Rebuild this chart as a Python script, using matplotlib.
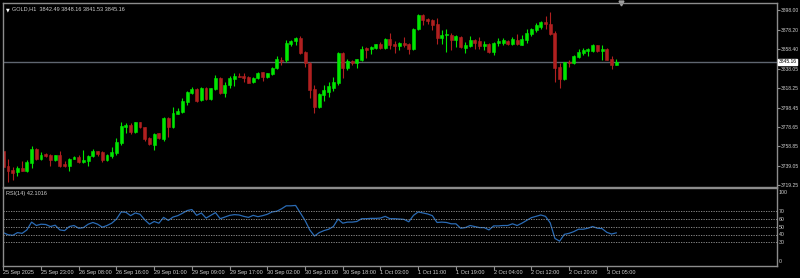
import numpy as np
import matplotlib
matplotlib.use("Agg")
import matplotlib.pyplot as plt

plt.rcParams['font.family'] = ['Liberation Sans', 'DejaVu Sans']

# GOLD H1 candles, 25 Sep 15:00 .. 3 Oct 07:00
opens = [3754.5, 3739.3, 3734.9, 3732.5, 3737.3, 3733.5, 3742.1, 3756.3, 3746.4, 3751.5,
         3750.2, 3744.7, 3750.2, 3741.0, 3738.6, 3746.4, 3748.4, 3742.7, 3743.7, 3748.8,
         3753.8, 3753.2, 3744.7, 3748.8, 3752.2, 3761.9, 3779.2, 3781.2, 3774.1, 3783.7,
         3778.6, 3767.7, 3759.9, 3772.1, 3766.7, 3788.3, 3778.6, 3792.1, 3793.8, 3804.6,
         3813.1, 3817.5, 3806.3, 3818.8, 3807.0, 3817.5, 3828.9, 3813.7, 3821.5, 3827.6,
         3830.7, 3830.7, 3829.3, 3824.3, 3828.3, 3834.4, 3829.9, 3832.4, 3838.5, 3847.6,
         3847.6, 3863.9, 3866.5, 3869.5, 3855.3, 3844.2, 3817.2, 3798.9, 3811.4, 3814.7,
         3818.8, 3823.9, 3854.3, 3838.5, 3845.9, 3843.6, 3847.6, 3859.4, 3858.8, 3859.4,
         3863.9, 3859.4, 3868.9, 3863.9, 3861.4, 3864.9, 3863.9, 3858.1, 3878.4, 3893.3,
         3889.2, 3887.5, 3883.4, 3869.9, 3872.3, 3872.3, 3867.9, 3870.5, 3859.8, 3861.4,
         3867.9, 3866.5, 3861.4, 3863.9, 3855.3, 3864.5, 3864.9, 3866.5, 3863.1, 3867.9,
         3862.8, 3867.9, 3873.3, 3877.3, 3880.7, 3885.8, 3884.2, 3875.0, 3840.1, 3827.6,
         3845.2, 3843.6, 3850.2, 3854.3, 3856.0, 3856.0, 3862.1, 3856.0, 3858.8, 3848.6,
         3842.49]
highs = [3757.6, 3746.4, 3738.3, 3739.3, 3743.7, 3745.4, 3758.9, 3757.3, 3752.8, 3752.2,
         3750.8, 3750.5, 3754.5, 3743.7, 3747.1, 3748.8, 3750.2, 3755.5, 3750.2, 3756.3,
         3754.5, 3753.8, 3750.8, 3757.9, 3767.0, 3784.3, 3782.7, 3783.0, 3784.3, 3784.3,
         3779.2, 3769.0, 3773.1, 3773.1, 3789.3, 3789.3, 3798.9, 3797.9, 3808.6, 3815.4,
         3819.8, 3818.2, 3819.8, 3819.8, 3818.8, 3831.7, 3829.9, 3824.9, 3830.7, 3833.4,
         3833.4, 3833.4, 3830.7, 3829.9, 3835.0, 3835.0, 3834.0, 3840.1, 3851.0, 3850.2,
         3867.2, 3867.2, 3870.5, 3871.6, 3856.3, 3845.2, 3821.5, 3813.1, 3821.5, 3824.9,
         3829.9, 3855.3, 3855.3, 3848.6, 3847.6, 3848.6, 3861.1, 3860.4, 3861.1, 3863.9,
         3865.5, 3869.9, 3875.0, 3866.2, 3865.5, 3870.5, 3864.9, 3879.7, 3894.3, 3894.3,
         3890.2, 3889.2, 3890.2, 3877.3, 3879.1, 3874.6, 3872.3, 3871.3, 3865.5, 3871.3,
         3868.9, 3870.5, 3866.5, 3864.5, 3865.5, 3869.5, 3869.5, 3867.2, 3870.5, 3874.0,
         3872.3, 3879.1, 3879.7, 3884.8, 3886.8, 3891.9, 3896.6, 3876.3, 3843.6, 3845.2,
         3846.9, 3852.0, 3858.8, 3859.4, 3859.4, 3863.9, 3862.8, 3862.1, 3859.4, 3851.0,
         3848.16]
lows = [3730.2, 3722.1, 3724.4, 3729.2, 3733.5, 3732.9, 3737.0, 3745.4, 3745.4, 3748.1,
        3738.6, 3744.1, 3738.0, 3738.3, 3734.2, 3745.7, 3742.1, 3742.1, 3739.3, 3747.7,
        3748.8, 3742.7, 3743.7, 3747.1, 3750.5, 3760.6, 3772.5, 3771.5, 3773.1, 3777.2,
        3764.7, 3759.9, 3755.5, 3766.4, 3764.0, 3768.4, 3777.6, 3792.1, 3792.8, 3801.2,
        3812.4, 3804.6, 3805.6, 3806.3, 3806.3, 3816.4, 3812.4, 3809.6, 3818.2, 3820.8,
        3829.3, 3824.9, 3823.3, 3823.3, 3827.3, 3825.6, 3828.3, 3831.7, 3837.8, 3841.8,
        3845.2, 3861.1, 3862.1, 3853.7, 3840.1, 3808.0, 3792.8, 3797.9, 3805.3, 3809.6,
        3815.7, 3821.5, 3828.3, 3836.8, 3842.5, 3839.1, 3846.2, 3849.6, 3853.7, 3858.8,
        3858.1, 3858.1, 3858.8, 3854.7, 3857.0, 3860.4, 3853.0, 3857.8, 3877.3, 3883.1,
        3884.2, 3878.1, 3863.9, 3863.9, 3855.3, 3857.0, 3860.4, 3859.4, 3854.3, 3860.4,
        3858.8, 3858.8, 3857.0, 3854.7, 3852.0, 3861.1, 3862.8, 3862.1, 3862.8, 3862.1,
        3862.1, 3864.5, 3871.6, 3875.6, 3879.1, 3879.1, 3872.3, 3824.9, 3818.8, 3826.6,
        3840.1, 3842.8, 3849.6, 3852.7, 3851.3, 3855.3, 3855.3, 3846.9, 3846.9, 3837.5,
        3841.53]
closes = [3738.3, 3734.2, 3731.9, 3737.3, 3734.2, 3742.7, 3756.3, 3746.4, 3750.5, 3748.8,
          3744.7, 3750.2, 3739.3, 3738.6, 3746.4, 3748.4, 3742.7, 3744.7, 3748.8, 3753.8,
          3751.5, 3744.7, 3749.8, 3753.2, 3763.0, 3779.9, 3781.2, 3773.5, 3783.7, 3778.6,
          3766.4, 3761.3, 3771.5, 3767.4, 3787.7, 3778.6, 3792.8, 3795.1, 3805.3, 3814.1,
          3817.5, 3805.3, 3818.8, 3807.0, 3818.2, 3828.9, 3813.7, 3821.5, 3828.9, 3831.0,
          3829.3, 3828.3, 3823.9, 3828.9, 3834.0, 3829.9, 3833.4, 3839.1, 3847.9, 3846.2,
          3864.9, 3866.5, 3869.5, 3854.7, 3843.6, 3816.4, 3798.9, 3812.4, 3816.4, 3820.5,
          3824.9, 3854.3, 3838.5, 3845.9, 3843.6, 3847.9, 3858.8, 3857.0, 3860.4, 3863.1,
          3859.4, 3868.9, 3862.1, 3861.1, 3864.9, 3862.8, 3858.1, 3879.1, 3893.3, 3888.2,
          3886.5, 3882.4, 3869.5, 3873.0, 3874.0, 3867.9, 3871.3, 3860.4, 3862.1, 3867.9,
          3864.9, 3861.4, 3863.9, 3855.3, 3864.9, 3866.5, 3867.2, 3863.1, 3868.2, 3863.1,
          3868.9, 3874.6, 3878.4, 3882.4, 3885.8, 3883.4, 3874.0, 3839.1, 3827.6, 3844.6,
          3843.6, 3851.3, 3855.3, 3857.0, 3858.1, 3862.8, 3856.0, 3858.8, 3847.6, 3841.8,
          3845.16]
rsi = [42.4, 39.7, 38.9, 42.4, 41.5, 45.9, 56.0, 51.6, 53.3, 52.9,
       50.3, 52.0, 45.9, 45.0, 50.3, 51.6, 48.1, 48.9, 53.3, 55.5,
       53.3, 49.4, 51.6, 54.6, 59.9, 69.1, 68.7, 64.3, 67.8, 66.1,
       59.0, 53.3, 56.8, 54.6, 62.1, 58.2, 62.5, 64.3, 67.4, 70.9,
       72.2, 64.7, 67.8, 61.2, 64.7, 68.2, 60.4, 62.5, 64.7, 65.6,
       65.2, 63.4, 62.1, 64.7, 63.0, 64.3, 66.1, 69.1, 70.0, 73.1,
       77.0, 77.0, 77.5, 67.8, 58.2, 45.9, 38.0, 42.4, 45.0, 46.8,
       50.3, 59.9, 54.6, 56.0, 56.0, 56.8, 60.4, 60.4, 60.8, 60.8,
       61.2, 63.4, 60.4, 60.4, 59.9, 59.5, 56.4, 64.7, 69.1, 67.8,
       66.5, 64.3, 55.5, 56.0, 55.5, 53.8, 53.8, 48.1, 48.9, 51.6,
       50.3, 48.9, 48.9, 45.9, 51.1, 51.1, 51.6, 51.6, 53.8, 51.6,
       54.6, 58.2, 61.7, 63.4, 65.2, 63.4, 55.0, 34.9, 31.4, 40.2,
       41.5, 43.7, 46.8, 46.8, 48.1, 50.3, 48.1, 47.6, 42.8, 40.6,
       42.1016]

price_ticks = [3898.00, 3878.20, 3858.40, 3838.05, 3818.25, 3798.45, 3778.65, 3758.85, 3739.05, 3719.25]
rsi_levels = [30, 40, 50, 60, 70]
time_ticks = [0, 8, 16, 24, 32, 40, 48, 56, 64, 72, 80, 88, 96, 104, 112, 120, 128]
time_labels = ["25 Sep 2025", "25 Sep 23:00", "26 Sep 08:00", "26 Sep 16:00", "29 Sep 01:00",
               "29 Sep 09:00", "29 Sep 17:00", "30 Sep 02:00", "30 Sep 10:00", "30 Sep 18:00",
               "1 Oct 03:00", "1 Oct 11:00", "1 Oct 19:00", "2 Oct 04:00", "2 Oct 12:00",
               "2 Oct 20:00", "3 Oct 05:00"]

bull = '#00e600'
bear = '#b02020'
frame = '#8c8c8c'
txt = '#d0d0d0'

o = np.array(opens)
c = np.array(closes)
x = np.arange(len(o))
cols = [bull if cc >= oo else bear for oo, cc in zip(o, c)]

fig = plt.figure(figsize=(8, 2.78), dpi=100, facecolor='black')
ax = fig.add_axes([2.5 / 800, 1 - 186.5 / 278, 774.5 / 800, 184 / 278], facecolor='black')
ax2 = fig.add_axes([2.5 / 800, 1 - 265.5 / 278, 774.5 / 800, 77.5 / 278], facecolor='black', sharex=ax)

# candles
ax.vlines(x, lows, highs, colors=cols, linewidth=0.8)
ax.bar(x, c - o, bottom=o, width=0.62, color=cols, edgecolor=cols, linewidth=0.4)
ax.axhline(closes[-1], color='#5f6670', linewidth=1.0, zorder=0)
ax.plot([len(o)], [1], marker='v', color='#a0a0a0', markersize=3.5,
        transform=ax.get_xaxis_transform(), clip_on=False)

ax.set_xlim(-0.17, 164.1)
ax.set_ylim(3718.0, 3905.8)
ax.yaxis.tick_right()
ax.set_yticks(price_ticks)
ax.set_yticklabels(["%.2f" % p for p in price_ticks])
ax.tick_params(axis='y', colors=frame, labelcolor=txt, labelsize=3.6, length=2, pad=1)
ax.tick_params(axis='x', bottom=False, labelbottom=False)
for s in ax.spines.values():
    s.set_color(frame)
    s.set_linewidth(1)

ax.text(0.004, 0.975, "\u25bc", transform=ax.transAxes, color='white', fontsize=3.5,
        family=['DejaVu Sans'], va='top', ha='left')
ax.text(0.012, 0.977, "GOLD,H1  %.2f %.2f %.2f %.2f" % (opens[-1], highs[-1], lows[-1], closes[-1]),
        transform=ax.transAxes, color=txt, fontsize=4, va='top', ha='left')
ax.text(1.002, closes[-1], "%.2f" % closes[-1], transform=ax.get_yaxis_transform(),
        color='black', fontsize=3.6, va='center', ha='left',
        bbox=dict(boxstyle='square,pad=0.15', facecolor='white', edgecolor='white'))

# RSI panel
ax2.plot(x, rsi, color='#2a6bb5', linewidth=0.9)
for lv in rsi_levels:
    ax2.axhline(lv, color='#9a9a9a', linewidth=0.6, linestyle=(0, (1.5, 1.5)))
ax2.set_ylim(0, 100)
ax2.yaxis.tick_right()
ax2.set_yticks(rsi_levels)
ax2.set_yticklabels([str(v) for v in rsi_levels])
ax2.tick_params(axis='y', colors=frame, labelcolor=txt, labelsize=3.8, length=0, pad=1.5)
ax2.text(1.002, 97, "100", transform=ax2.get_yaxis_transform(), color=txt, fontsize=3.8, va='top', ha='left')
ax2.text(1.002, 2, "0", transform=ax2.get_yaxis_transform(), color=txt, fontsize=3.8, va='bottom', ha='left')
ax2.text(0.004, 0.96, "RSI(14) %.4f" % rsi[-1], transform=ax2.transAxes, color=txt,
         fontsize=4, va='top', ha='left')

ax2.set_xticks(time_ticks)
ax2.set_xticklabels(time_labels)
ax2.tick_params(axis='x', colors=frame, labelcolor=txt, labelsize=4, length=3, pad=0.5)
for lab in ax2.get_xticklabels():
    lab.set_ha('left')
for s in ax2.spines.values():
    s.set_color(frame)
    s.set_linewidth(1)

fig.savefig("out.png", dpi=100, facecolor='black')
